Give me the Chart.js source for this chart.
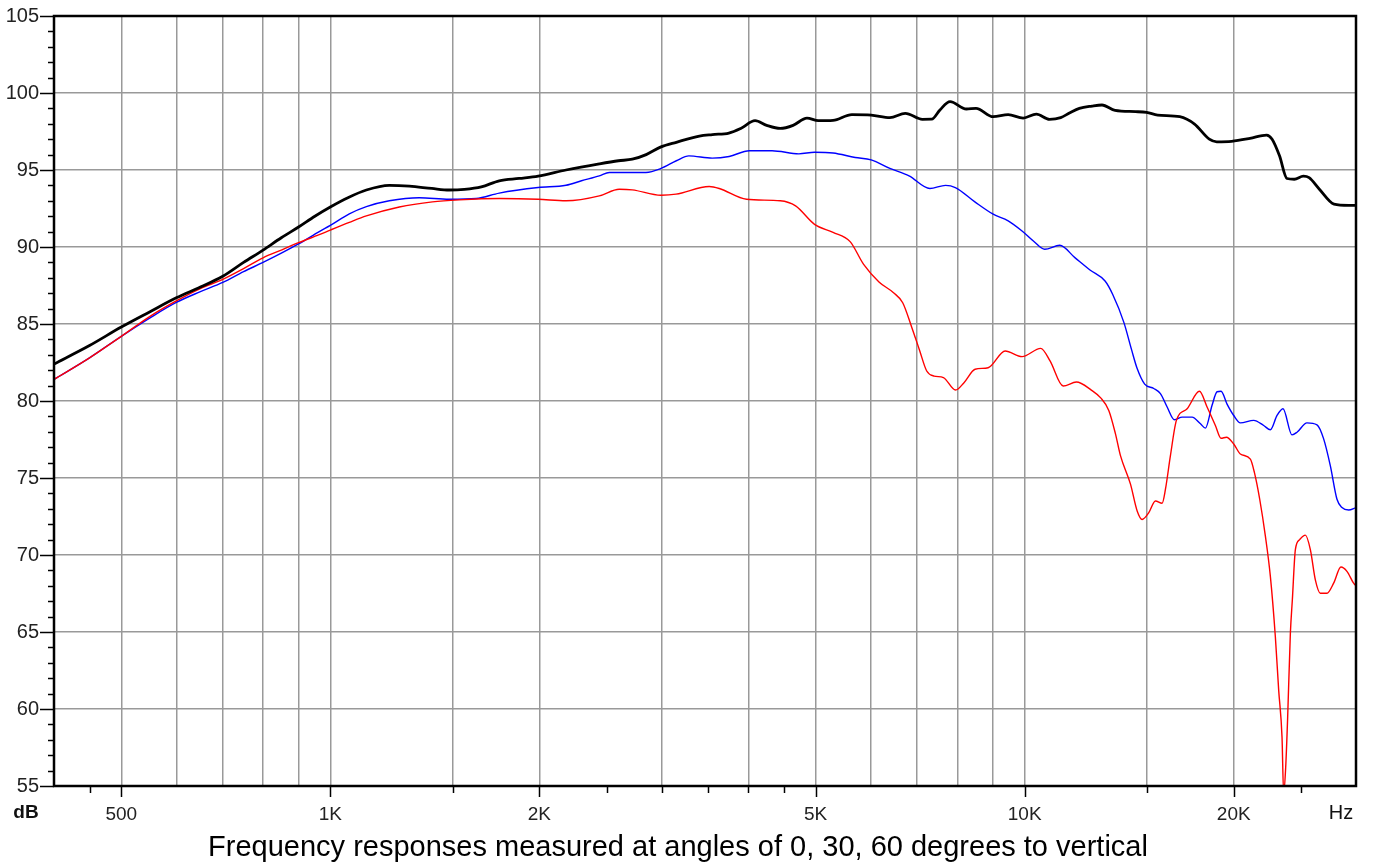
<!DOCTYPE html>
<html>
<head>
<meta charset="utf-8">
<script src="https://cdn.jsdelivr.net/npm/chart.js@4.4.1/dist/chart.umd.min.js"></script>
<style>
    html, body { margin: 0; padding: 0; background: #fff; }
    #chart { display: block; }
</style>
</head>
<body>
<canvas id="chart" width="1373" height="866"></canvas>
<script>
// 0 degrees (black)
const freq0 = [400, 450, 500, 550, 600, 650, 700, 750, 800, 850, 900, 950, 1000, 1060, 1127, 1216, 1300, 1400, 1483, 1560, 1650, 1751, 1870, 1992, 2185, 2440, 2600, 2722, 2850, 2994, 3150, 3400, 3550, 3750, 3900, 4090, 4250, 4445, 4639, 4858, 5044, 5297, 5637, 6010, 6395, 6730, 7123, 7347, 7550, 7807, 8241, 8509, 9007, 9467, 9950, 10395, 10856, 11268, 11600, 11987, 12500, 12921, 13496, 14440, 14984, 15542, 16726, 17563, 18444, 18905, 19858, 21107, 22302, 22715, 23279, 23858, 24450, 25195, 25680, 26570, 27890, 29275, 30000];
const db0 = [82.4, 83.6, 84.8, 85.8, 86.7, 87.4, 88.1, 89.0, 89.8, 90.6, 91.3, 92.0, 92.6, 93.2, 93.7, 94.0, 93.95, 93.8, 93.7, 93.74, 93.9, 94.3, 94.45, 94.6, 95.0, 95.4, 95.6, 95.7, 96.0, 96.5, 96.8, 97.2, 97.3, 97.4, 97.7, 98.2, 97.9, 97.7, 97.9, 98.37, 98.2, 98.22, 98.6, 98.57, 98.4, 98.68, 98.29, 98.3, 98.9, 99.44, 98.96, 99.0, 98.46, 98.59, 98.37, 98.63, 98.29, 98.4, 98.7, 99.0, 99.15, 99.22, 98.87, 98.79, 98.74, 98.57, 98.46, 97.98, 97.0, 96.83, 96.86, 97.05, 97.27, 97.0, 95.92, 94.45, 94.4, 94.6, 94.5, 93.75, 92.78, 92.7, 92.7];

// 30 degrees (blue)
const freq30 = [400, 450, 500, 550, 600, 650, 700, 750, 800, 850, 900, 964, 1000, 1065, 1127, 1216, 1343, 1483, 1622, 1751, 1992, 2185, 2300, 2440, 2523, 2848, 2994, 3150, 3284, 3548, 3753, 4013, 4326, 4729, 4981, 5297, 5701, 6010, 6395, 6815, 7302, 7692, 7945, 8477, 9007, 9467, 9913, 10292, 10686, 11233, 11810, 12417, 13054, 13385, 13897, 14249, 14520, 14886, 15344, 15684, 16038, 16432, 16854, 17420, 17912, 18210, 18614, 18926, 19178, 19562, 20000, 20445, 21370, 22090, 22584, 23088, 23550, 24264, 24670, 25500, 26360, 26948, 27550, 28166, 28636, 29276, 30000];
const db30 = [81.4, 82.8, 84.2, 85.4, 86.4, 87.1, 87.7, 88.4, 89.0, 89.6, 90.2, 91.0, 91.4, 92.15, 92.62, 93.0, 93.2, 93.1, 93.15, 93.5, 93.86, 94.01, 94.3, 94.62, 94.84, 94.84, 95.1, 95.6, 95.92, 95.77, 95.88, 96.25, 96.25, 96.05, 96.15, 96.1, 95.81, 95.66, 95.1, 94.62, 93.8, 94.0, 93.86, 92.93, 92.13, 91.7, 91.04, 90.39, 89.85, 90.11, 89.31, 88.51, 87.79, 86.93, 85.09, 83.35, 82.11, 81.1, 80.81, 80.48, 79.61, 78.78, 78.95, 78.95, 78.52, 78.24, 79.72, 80.6, 80.63, 79.8, 79.06, 78.58, 78.74, 78.41, 78.13, 79.06, 79.5, 77.8, 77.97, 78.58, 78.45, 77.54, 75.8, 73.62, 73.08, 72.92, 73.08];

// 60 degrees (red)
const freq60 = [400, 450, 500, 550, 600, 650, 700, 750, 800, 850, 900, 964, 1000, 1065, 1127, 1257, 1403, 1533, 1751, 1992, 2185, 2440, 2607, 2722, 2994, 3147, 3513, 3632, 3975, 4445, 4678, 4981, 5297, 5605, 5862, 6168, 6473, 6673, 6879, 7050, 7226, 7405, 7637, 7951, 8177, 8484, 8859, 9373, 9913, 10545, 10877, 11362, 11869, 12472, 12866, 13216, 13512, 13738, 14202, 14520, 14762, 15092, 15426, 15772, 15948, 16213, 16538, 17138, 17850, 18308, 18820, 19178, 19520, 20000, 20445, 21135, 21418, 21800, 22214, 22584, 22960, 23216, 23474, 23600, 23760, 23917, 24132, 24292, 24536, 24890, 25362, 25786, 26216, 26654, 27248, 27856, 28540, 29114, 29764, 30000];
const db60 = [81.4, 82.8, 84.2, 85.5, 86.5, 87.3, 87.9, 88.6, 89.3, 89.8, 90.28, 90.8, 91.1, 91.6, 92.02, 92.6, 92.93, 93.06, 93.15, 93.1, 93.0, 93.32, 93.75, 93.71, 93.36, 93.43, 93.93, 93.8, 93.1, 93.0, 92.67, 91.47, 90.95, 90.35, 88.87, 87.73, 87.03, 86.38, 84.76, 83.35, 81.95, 81.62, 81.52, 80.71, 81.19, 82.06, 82.16, 83.25, 82.88, 83.42, 82.6, 80.97, 81.23, 80.71, 80.2, 79.39, 77.87, 76.45, 74.6, 72.86, 72.31, 72.75, 73.51, 73.36, 74.27, 76.45, 78.74, 79.5, 80.63, 79.61, 78.41, 77.58, 77.65, 77.21, 76.56, 76.23, 75.36, 73.62, 71.22, 68.61, 64.69, 61.21, 58.16, 54.5, 56.2, 59.46, 64.9, 67.09, 70.35, 71.0, 71.29, 70.35, 68.39, 67.52, 67.52, 68.17, 69.22, 68.94, 68.17, 68.0];

// axis ticks
const xTickVals = [400, 450, 500, 600, 700, 800, 900, 1000, 1500, 2000, 2500, 3000, 3500, 4000, 4500, 5000, 6000, 7000, 8000, 9000, 10000, 15000, 20000, 25000, 30000];
const xGridVals = [500, 600, 700, 800, 900, 1000, 1500, 2000, 3000, 4000, 5000, 6000, 7000, 8000, 9000, 10000, 15000, 20000];
const xMarkVals = [450, 500, 1000, 1500, 2000, 2500, 3000, 3500, 4000, 4500, 5000, 10000, 15000, 20000, 25000];
const xLabelVals = [500, 1000, 2000, 5000, 10000, 20000];
const xLabelText = ['500', '1K', '2K', '5K', '10K', '20K'];
const yLabelVals = [55, 60, 65, 70, 75, 80, 85, 90, 95, 100, 105];

const FONT = '"Liberation Sans", Arial, sans-serif';

function pts(fs, ds) {
    return fs.map((f, i) => ({ x: f, y: ds[i] }));
}

const framePlugin = {
    id: 'frame',
    afterDatasetsDraw(chart) {
        const { ctx, chartArea: a, scales } = chart;
        const x = scales.x, y = scales.y;
        ctx.save();
        ctx.strokeStyle = '#000';

        // x tick marks below the axis
        ctx.lineWidth = 1.5;
        xMarkVals.forEach(v => {
            const px = Math.round(x.getPixelForValue(v)) + 0.5;
            const len = xLabelVals.includes(v) ? 11 : 7;
            ctx.beginPath();
            ctx.moveTo(px, a.bottom);
            ctx.lineTo(px, a.bottom + len);
            ctx.stroke();
        });

        // y tick marks, 1 dB steps
        for (let v = 55; v <= 105; v++) {
            const py = Math.round(y.getPixelForValue(v)) + 0.5;
            const len = v % 5 === 0 ? 14 : 6;
            ctx.beginPath();
            ctx.moveTo(a.left - len, py);
            ctx.lineTo(a.left, py);
            ctx.stroke();
        }

        // frame
        ctx.lineWidth = 2.5;
        ctx.strokeRect(a.left, a.top, a.right - a.left, a.bottom - a.top);

        // unit labels
        ctx.fillStyle = '#111';
        ctx.textAlign = 'center';
        ctx.textBaseline = 'middle';
        ctx.font = 'bold 19px ' + FONT;
        ctx.fillText('dB', 26, 813);
        ctx.font = '20px ' + FONT;
        ctx.fillText('Hz', 1341, 813);
        ctx.restore();
    }
};

new Chart(document.getElementById('chart'), {
    type: 'line',
    data: {
        datasets: [
            { label: '0', data: pts(freq0, db0), borderColor: '#000000', borderWidth: 2.8 },
            { label: '60', data: pts(freq60, db60), borderColor: '#ff0000', borderWidth: 1.4 },
            { label: '30', data: pts(freq30, db30), borderColor: '#0000ff', borderWidth: 1.4 }
        ]
    },
    options: {
        responsive: false,
        devicePixelRatio: 1,
        animation: false,
        parsing: false,
        elements: {
            point: { radius: 0 },
            line: { cubicInterpolationMode: 'monotone', borderJoinStyle: 'round' }
        },
        layout: { padding: { top: 16, right: 17, left: 0, bottom: 0 } },
        plugins: {
            legend: { display: false },
            tooltip: { enabled: false },
            title: {
                display: true,
                position: 'bottom',
                text: 'Frequency responses measured at angles of 0, 30, 60 degrees to vertical',
                color: '#000',
                font: { family: FONT, size: 29, weight: 'normal' },
                padding: { top: 2, bottom: 1 }
            }
        },
        scales: {
            x: {
                type: 'logarithmic',
                min: 400,
                max: 30000,
                afterBuildTicks(scale) {
                    scale.ticks = xTickVals.map(v => ({ value: v }));
                },
                afterFit(scale) { scale.height = 42.2; },
                border: { display: false },
                grid: {
                    drawTicks: false,
                    lineWidth: 1.5,
                    color: c => xGridVals.includes(c.tick.value) ? '#999999' : 'rgba(0,0,0,0)'
                },
                ticks: {
                    autoSkip: false,
                    maxRotation: 0,
                    padding: 17,
                    color: '#222',
                    font: { family: FONT, size: 19 },
                    callback: v => {
                        const i = xLabelVals.indexOf(v);
                        return i >= 0 ? xLabelText[i] : '';
                    }
                }
            },
            y: {
                min: 55,
                max: 105,
                afterFit(scale) {
                    scale.width = 54;
                    scale.paddingTop = 0;
                    scale.paddingBottom = 0;
                },
                border: { display: false },
                grid: {
                    drawTicks: false,
                    lineWidth: 1.5,
                    color: c => (c.tick.value % 5 === 0 && c.tick.value > 55 && c.tick.value < 105) ? '#999999' : 'rgba(0,0,0,0)'
                },
                ticks: {
                    stepSize: 1,
                    autoSkip: false,
                    padding: 15,
                    color: '#222',
                    font: { family: FONT, size: 20 },
                    callback: v => yLabelVals.includes(v) ? String(v) : ''
                }
            }
        }
    },
    plugins: [framePlugin]
});
</script>
</body>
</html>
